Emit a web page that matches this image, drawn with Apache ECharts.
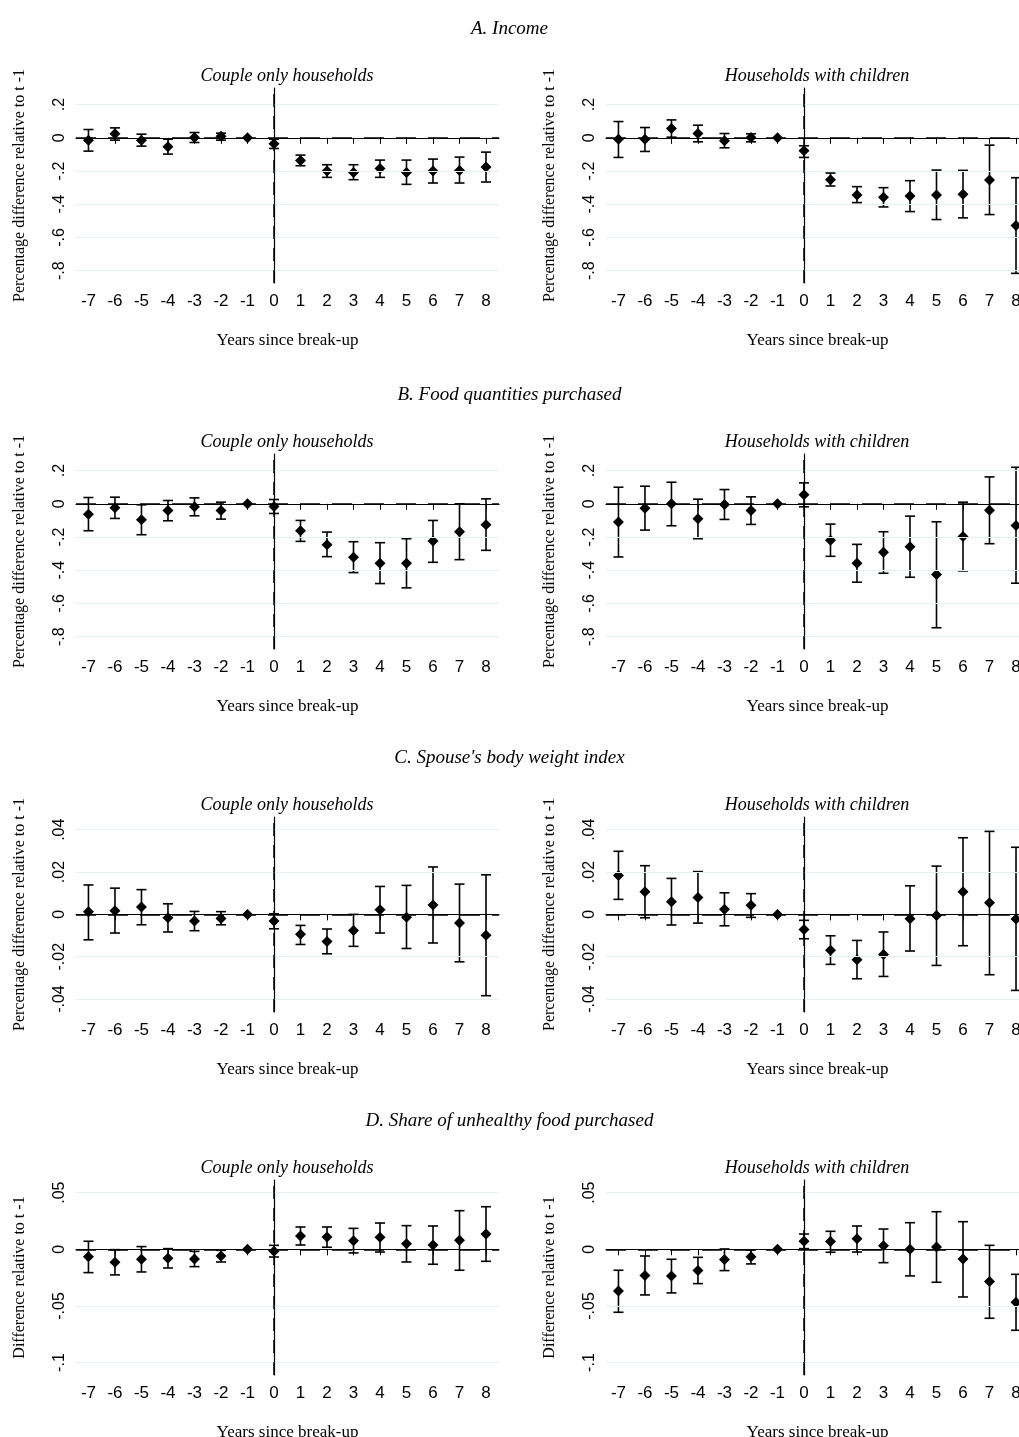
<!DOCTYPE html>
<html lang="en">
<head>
<meta charset="UTF-8">
<title>break-up event study</title>
<script src="https://cdn.jsdelivr.net/npm/echarts@6/dist/echarts.min.js"></script>
<style>html,body{margin:0;padding:0;background:#fff;}</style>
</head>
<body>
<div id="main" style="width:1019px;height:1437px;"></div>
<script>
    // x categories (years since break-up)
    let years = [-7, -6, -5, -4, -3, -2, -1, 0, 1, 2, 3, 4, 5, 6, 7, 8];

    // A. Income
    let incCoupleEst = [-0.014, 0.024, -0.014, -0.054, 0.002, 0.010, 0, -0.036, -0.136, -0.200, -0.208, -0.184, -0.208, -0.200, -0.196, -0.176];
    let incCoupleLo = [-0.080, -0.014, -0.050, -0.098, -0.028, -0.014, null, -0.064, -0.168, -0.238, -0.252, -0.238, -0.280, -0.272, -0.272, -0.266];
    let incCoupleHi = [0.050, 0.060, 0.022, -0.008, 0.032, 0.028, null, -0.008, -0.104, -0.162, -0.162, -0.134, -0.134, -0.128, -0.116, -0.086];
    let incKidsEst = [-0.008, -0.008, 0.056, 0.026, -0.018, 0.002, 0, -0.078, -0.252, -0.344, -0.358, -0.350, -0.344, -0.340, -0.254, -0.528];
    let incKidsLo = [-0.118, -0.082, 0.004, -0.024, -0.060, -0.024, null, -0.118, -0.290, -0.390, -0.416, -0.444, -0.492, -0.482, -0.462, -0.816];
    let incKidsHi = [0.098, 0.062, 0.108, 0.076, 0.026, 0.024, null, -0.048, -0.212, -0.294, -0.300, -0.258, -0.194, -0.196, -0.044, -0.240];

    // B. Food quantities purchased
    let foodCoupleEst = [-0.062, -0.024, -0.096, -0.040, -0.018, -0.040, 0, -0.016, -0.162, -0.246, -0.322, -0.358, -0.358, -0.224, -0.168, -0.126];
    let foodCoupleLo = [-0.162, -0.088, -0.186, -0.102, -0.072, -0.092, null, -0.058, -0.226, -0.318, -0.414, -0.480, -0.506, -0.352, -0.336, -0.280];
    let foodCoupleHi = [0.038, 0.040, -0.006, 0.020, 0.036, 0.010, null, 0.026, -0.100, -0.170, -0.228, -0.234, -0.210, -0.100, 0.000, 0.030];
    let foodKidsEst = [-0.110, -0.026, 0.000, -0.090, -0.004, -0.040, 0, 0.054, -0.220, -0.358, -0.292, -0.258, -0.426, -0.196, -0.038, -0.130];
    let foodKidsLo = [-0.320, -0.158, -0.132, -0.210, -0.094, -0.124, null, -0.018, -0.316, -0.472, -0.418, -0.442, -0.746, -0.404, -0.240, -0.478];
    let foodKidsHi = [0.100, 0.106, 0.130, 0.028, 0.086, 0.042, null, 0.126, -0.122, -0.244, -0.168, -0.074, -0.108, 0.010, 0.162, 0.220];

    // C. Spouse's body weight index
    let bwiCoupleEst = [0.0013, 0.0017, 0.0035, -0.0016, -0.0031, -0.0019, 0, -0.0031, -0.0094, -0.0128, -0.0076, 0.0022, -0.0013, 0.0044, -0.0041, -0.0098];
    let bwiCoupleLo = [-0.0120, -0.0088, -0.0049, -0.0083, -0.0077, -0.0049, null, -0.0068, -0.0142, -0.0186, -0.0151, -0.0088, -0.0161, -0.0135, -0.0224, -0.0384];
    let bwiCoupleHi = [0.0139, 0.0124, 0.0117, 0.0050, 0.0014, 0.0013, null, 0.0003, -0.0052, -0.0069, 0.0000, 0.0132, 0.0137, 0.0224, 0.0143, 0.0187];
    let bwiKidsEst = [0.0184, 0.0107, 0.0060, 0.0080, 0.0024, 0.0043, 0, -0.0071, -0.0169, -0.0214, -0.0189, -0.0020, -0.0005, 0.0107, 0.0055, -0.0022];
    let bwiKidsLo = [0.0071, -0.0016, -0.0050, -0.0041, -0.0054, -0.0014, null, -0.0115, -0.0236, -0.0304, -0.0293, -0.0173, -0.0241, -0.0148, -0.0285, -0.0359];
    let bwiKidsHi = [0.0298, 0.0230, 0.0170, 0.0202, 0.0102, 0.0098, null, -0.0028, -0.0101, -0.0123, -0.0083, 0.0135, 0.0228, 0.0362, 0.0392, 0.0317];

    // D. Share of unhealthy food purchased
    let shareCoupleEst = [-0.0065, -0.0115, -0.0088, -0.0079, -0.0085, -0.0059, 0, -0.0018, 0.0118, 0.0109, 0.0076, 0.0106, 0.0050, 0.0038, 0.0079, 0.0135];
    let shareCoupleLo = [-0.0206, -0.0226, -0.0200, -0.0165, -0.0153, -0.0112, null, -0.0068, 0.0038, 0.0018, -0.0032, -0.0024, -0.0112, -0.0132, -0.0185, -0.0106];
    let shareCoupleHi = [0.0071, -0.0003, 0.0024, 0.0006, -0.0018, -0.0009, null, 0.0035, 0.0197, 0.0197, 0.0185, 0.0232, 0.0209, 0.0206, 0.0341, 0.0376];
    let shareKidsEst = [-0.0368, -0.0232, -0.0235, -0.0188, -0.0091, -0.0065, 0, 0.0071, 0.0068, 0.0094, 0.0032, 0.0000, 0.0021, -0.0085, -0.0285, -0.0468];
    let shareKidsLo = [-0.0556, -0.0403, -0.0385, -0.0303, -0.0188, -0.0129, null, 0.0006, -0.0026, -0.0024, -0.0118, -0.0235, -0.0291, -0.0421, -0.0609, -0.0715];
    let shareKidsHi = [-0.0185, -0.0059, -0.0088, -0.0071, 0.0003, -0.0006, null, 0.0135, 0.0159, 0.0206, 0.0179, 0.0235, 0.0332, 0.0244, 0.0035, -0.0221];

    // y tick labels per row
    let ticksAB = [0.2, 0, -0.2, -0.4, -0.6, -0.8];
    let labelsAB = ['.2', '0', '-.2', '-.4', '-.6', '-.8'];
    let ticksC = [0.04, 0.02, 0, -0.02, -0.04];
    let labelsC = ['.04', '.02', '0', '-.02', '-.04'];
    let ticksD = [0.05, 0, -0.05, -0.1];
    let labelsD = ['.05', '0', '-.05', '-.1'];

    let rows = [
        {title: 'A. Income', top: 88, min: -0.874, max: 0.3, ticks: ticksAB, labels: labelsAB,
            yname: 'Percentage difference relative to t -1',
            panels: [[incCoupleEst, incCoupleLo, incCoupleHi], [incKidsEst, incKidsLo, incKidsHi]]},
        {title: 'B. Food quantities purchased', top: 454, min: -0.874, max: 0.3, ticks: ticksAB, labels: labelsAB,
            yname: 'Percentage difference relative to t -1',
            panels: [[foodCoupleEst, foodCoupleLo, foodCoupleHi], [foodKidsEst, foodKidsLo, foodKidsHi]]},
        {title: "C. Spouse's body weight index", top: 817, min: -0.0461, max: 0.046, ticks: ticksC, labels: labelsC,
            yname: 'Percentage difference relative to t -1',
            panels: [[bwiCoupleEst, bwiCoupleLo, bwiCoupleHi], [bwiKidsEst, bwiKidsLo, bwiKidsHi]]},
        {title: 'D. Share of unhealthy food purchased', top: 1180, min: -0.111, max: 0.0612, ticks: ticksD, labels: labelsD,
            yname: 'Difference relative to t -1',
            panels: [[shareCoupleEst, shareCoupleLo, shareCoupleHi], [shareKidsEst, shareKidsLo, shareKidsHi]]}
    ];
    let subtitles = ['Couple only households', 'Households with children'];
    // right panel runs off the page edge, as in the original
    let lefts = [76, 606];
    let plotW = 423, plotH = 195;

    let serif = '"Liberation Serif", "Times New Roman", serif';
    let sans = '"Liberation Sans", Arial, sans-serif';

    let grids = [], xAxes = [], yAxes = [], series = [], graphics = [];
    let idx = 0;
    rows.forEach(function (row) {
        graphics.push({type: 'text', left: 'center', top: row.top - 69,
            style: {text: row.title, font: 'italic 19px ' + serif, fill: '#000'}});
        row.panels.forEach(function (p, j) {
            let est = p[0], lo = p[1], hi = p[2];
            grids.push({left: lefts[j], top: row.top, width: plotW, height: plotH, outerBoundsMode: 'none', containLabel: false});
            graphics.push({type: 'text', x: lefts[j] + 211, y: row.top - 12,
                style: {text: subtitles[j], font: 'italic 18px ' + serif, fill: '#000', align: 'center', verticalAlign: 'middle'}});
            xAxes.push({
                type: 'value', gridIndex: idx, min: -7.47, max: 8.49,
                name: 'Years since break-up', nameLocation: 'middle', nameGap: 49,
                nameTextStyle: {fontFamily: serif, fontSize: 17, color: '#000'},
                axisLine: {lineStyle: {color: '#000', width: 1.2}},
                axisTick: {length: 6, lineStyle: {color: '#000'}, customValues: years},
                axisLabel: {customValues: years, fontFamily: sans, fontSize: 17, color: '#000', margin: 10},
                splitLine: {show: false}
            });
            yAxes.push({
                type: 'value', gridIndex: idx, min: row.min, max: row.max,
                name: row.yname, nameLocation: 'middle', nameGap: 48,
                nameTextStyle: {fontFamily: serif, fontSize: 16, color: '#000'},
                axisLine: {show: true, lineStyle: {color: '#000', width: 1.2}},
                axisTick: {show: true, length: 6, lineStyle: {color: '#000'}, customValues: row.ticks},
                axisLabel: {
                    customValues: row.ticks, rotate: 90, fontFamily: sans, fontSize: 16, color: '#000', margin: 8,
                    formatter: function (v) {
                        let k = row.ticks.findIndex(function (t) { return Math.abs(t - v) < 1e-9; });
                        return k >= 0 ? row.labels[k] : '';
                    }
                },
                splitLine: {show: false}
            });
            // light grid lines at ticks
            series.push({
                type: 'line', xAxisIndex: idx, yAxisIndex: idx, data: [], z: 1, silent: true,
                markLine: {silent: true, symbol: 'none', label: {show: false},
                    lineStyle: {color: '#e6eef2', type: 'solid', width: 1.2},
                    data: row.ticks.filter(function (t) { return t !== 0; }).map(function (t) { return {yAxis: t}; })}
            });
            // dashed zero line
            series.push({
                type: 'line', xAxisIndex: idx, yAxisIndex: idx, data: [], z: 2, silent: true,
                markLine: {silent: true, symbol: 'none', label: {show: false},
                    lineStyle: {color: '#000', type: [20, 12], width: 1.5},
                    data: [{yAxis: 0}]}
            });
            // dashed break-up line
            series.push({
                type: 'line', xAxisIndex: idx, yAxisIndex: idx, data: [], z: 2, silent: true,
                markLine: {silent: true, symbol: 'none', label: {show: false},
                    lineStyle: {color: '#000', type: [13, 9], width: 1.5},
                    data: [{xAxis: 0}]}
            });
            // error bars with caps
            let barData = [];
            years.forEach(function (y, k) {
                if (lo[k] !== null) barData.push([y, lo[k], hi[k]]);
            });
            series.push({
                type: 'custom', xAxisIndex: idx, yAxisIndex: idx, z: 3, silent: true,
                data: barData,
                renderItem: function (params, api) {
                    let a = api.coord([api.value(0), api.value(1)]);
                    let b = api.coord([api.value(0), api.value(2)]);
                    let w = 5;
                    let st = {stroke: '#000', lineWidth: 1.6};
                    return {type: 'group', children: [
                        {type: 'line', shape: {x1: a[0], y1: a[1], x2: b[0], y2: b[1]}, style: st},
                        {type: 'line', shape: {x1: a[0] - w, y1: a[1], x2: a[0] + w, y2: a[1]}, style: st},
                        {type: 'line', shape: {x1: b[0] - w, y1: b[1], x2: b[0] + w, y2: b[1]}, style: st}
                    ]};
                }
            });
            series.push({
                type: 'scatter', xAxisIndex: idx, yAxisIndex: idx, z: 4, silent: true,
                symbol: 'diamond', symbolSize: 11, itemStyle: {color: '#000', opacity: 1},
                data: years.map(function (y, k) { return [y, est[k]]; })
            });
            idx++;
        });
    });

    let echart = echarts.init(document.getElementById('main'));
    echart.setOption({
        animation: false,
        backgroundColor: '#fff',
        grid: grids,
        xAxis: xAxes,
        yAxis: yAxes,
        series: series,
        graphic: graphics
    });
</script>
</body>
</html>
